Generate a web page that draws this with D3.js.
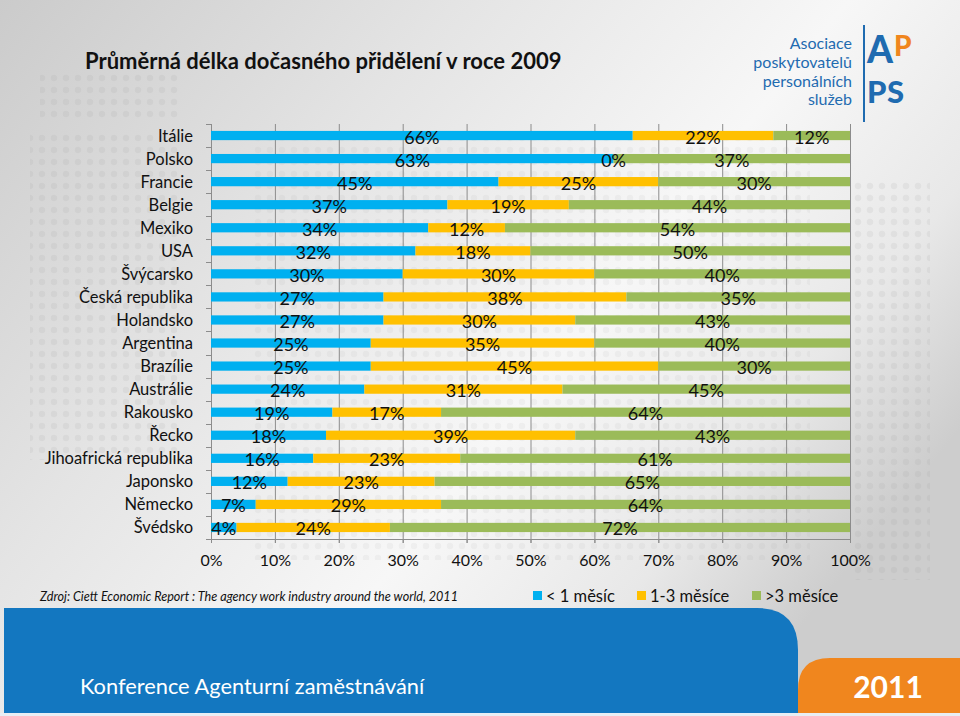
<!DOCTYPE html>
<html><head><meta charset="utf-8">
<script src="https://cdn.jsdelivr.net/npm/d3@7"></script>
<style>html,body{margin:0;padding:0;background:#fff;}svg{display:block;font-family:Lato,"Open Sans",sans-serif;}</style>
</head><body><svg id="c" width="960" height="716"></svg>
<script>
const categories = ["Itálie","Polsko","Francie","Belgie","Mexiko","USA","Švýcarsko","Česká republika","Holandsko","Argentina","Brazílie","Austrálie","Rakousko","Řecko","Jihoafrická republika","Japonsko","Německo","Švédsko"];
const lessThan1 = [66,63,45,37,34,32,30,27,27,25,25,24,19,18,16,12,7,4];
const oneToThree = [22,0,25,19,12,18,30,38,30,35,45,31,17,39,23,23,29,24];
const moreThan3 = [12,37,30,44,54,50,40,35,43,40,30,45,64,43,61,65,64,72];
const seriesNames = ["< 1 měsíc","1-3 měsíce",">3 měsíce"];
const seriesColors = ["#00B0F0","#FFC000","#9BBB59"];
const xTicks = [0,10,20,30,40,50,60,70,80,90,100];
const title = "Průměrná délka dočasného přidělení v roce 2009";
const source = "Zdroj:  Ciett Economic Report : The agency work industry around the world, 2011";

const svg = d3.select("#c");
const defs = svg.append("defs");
const bg = defs.append("linearGradient").attr("id","bg").attr("x1","0").attr("y1","0").attr("x2","1").attr("y2","0.6");
[["0","#cbcbcb"],["0.35","#e4e4e4"],["0.65","#f7f7f7"],["0.85","#e8e8e8"],["1","#cdcdcd"]].forEach(s=>bg.append("stop").attr("offset",s[0]).attr("stop-color",s[1]));
const pat = defs.append("pattern").attr("id","dots").attr("width",12).attr("height",12).attr("patternUnits","userSpaceOnUse");
pat.append("circle").attr("cx",6).attr("cy",6).attr("r",3.2).attr("fill","#9a9a9a").attr("opacity",0.13);

svg.append("rect").attr("width",960).attr("height",716).attr("fill","url(#bg)");
svg.append("rect").attr("x",30).attr("y",130).attr("width",150).attr("height",330).attr("fill","url(#dots)");
svg.append("rect").attr("x",40).attr("y",70).attr("width",140).attr("height",50).attr("fill","url(#dots)");
svg.append("rect").attr("x",250).attr("y",140).attr("width",560).attr("height",420).attr("fill","url(#dots)").attr("opacity",0.7);
svg.append("rect").attr("x",850).attr("y",180).attr("width",80).attr("height",400).attr("fill","url(#dots)");

// title
svg.append("text").attr("x",85).attr("y",69).attr("font-size",22).attr("font-weight","bold").attr("fill","#111").text(title);

// logo
const logoBlue = "#1F6BB0", orange = "#F0861E";
["Asociace","poskytovatelů","personálních","služeb"].forEach((t,i)=>{
  svg.append("text").attr("x",852).attr("y",[49,68,87,105][i]).attr("text-anchor","end").attr("font-size",16).attr("fill",logoBlue).text(t);
});
svg.append("line").attr("x1",864).attr("x2",864).attr("y1",25).attr("y2",122).attr("stroke",logoBlue).attr("stroke-width",2);
const logo = svg.append("text").attr("font-weight",900);
logo.append("tspan").attr("x",867).attr("y",63).attr("font-size",37).attr("fill",logoBlue).text("A");
logo.append("tspan").attr("x",894).attr("y",56).attr("font-size",28).attr("fill",orange).text("P");
logo.append("tspan").attr("x",867).attr("y",103).attr("font-size",31).attr("fill",logoBlue).text("P");
logo.append("tspan").attr("x",887).attr("y",103).attr("font-size",31).attr("fill",logoBlue).text("S");

// scales
const x = d3.scaleLinear().domain([0,100]).range([211,850]);
const y = d3.scaleBand().domain(categories).range([124,539]).paddingInner(0.6).paddingOuter(0.3);
const step = y.step();

// gridlines
svg.append("g").selectAll("line").data(xTicks.slice(1)).join("line")
  .attr("x1",d=>x(d)+0.5).attr("x2",d=>x(d)+0.5).attr("y1",124).attr("y2",543)
  .attr("stroke","#8c8c8c").attr("stroke-width",1);

// x axis
const xAxis = svg.append("g").attr("transform","translate(0,539)")
  .call(d3.axisBottom(x).tickValues(xTicks).tickFormat(d=>d+"%").tickSize(4).tickPadding(12));
xAxis.select(".domain").attr("stroke","#8c8c8c");
xAxis.selectAll(".tick line").attr("stroke","#8c8c8c");
xAxis.selectAll("text").attr("font-size",16).attr("fill","#111").attr("font-family","Lato");

// left axis line + boundary ticks
svg.append("line").attr("x1",211.5).attr("x2",211.5).attr("y1",124).attr("y2",539).attr("stroke","#8c8c8c");
const bounds = categories.map(c=>y(c)-step*0.3).concat([y(categories[categories.length-1])+y.bandwidth()+step*0.3]);
svg.append("g").selectAll("line").data(bounds).join("line")
  .attr("x1",206).attr("x2",211).attr("y1",d=>Math.round(d)+0.5).attr("y2",d=>Math.round(d)+0.5).attr("stroke","#8c8c8c");

// category labels
svg.append("g").selectAll("text").data(categories).join("text")
  .attr("x",193).attr("y",d=>y(d)+y.bandwidth()/2+6).attr("text-anchor","end").attr("font-size",16.5).attr("fill","#111").text(d=>d);

// stacked bars
const rows = categories.map((c,i)=>({cat:c, s0:lessThan1[i], s1:oneToThree[i], s2:moreThan3[i]}));
const stack = d3.stack().keys(["s0","s1","s2"])(rows);
const layers = svg.append("g").selectAll("g").data(stack).join("g").attr("fill",(d,i)=>seriesColors[i]);
layers.selectAll("rect").data(d=>d).join("rect")
  .attr("x",d=>x(d[0])).attr("width",d=>x(d[1])-x(d[0]))
  .attr("y",d=>y(d.data.cat)).attr("height",y.bandwidth());

// data labels
const lab = svg.append("g");
stack.forEach(layer=>{
  lab.selectAll(null).data(layer).join("text")
    .attr("x",d=>x((d[0]+d[1])/2)).attr("y",d=>y(d.data.cat)+y.bandwidth()/2+8)
    .attr("text-anchor","middle").attr("font-size",18).attr("fill","#111")
    .text(d=>(d[1]-d[0])+"%");
});

// source
svg.append("text").attr("x",40).attr("y",601).attr("font-size",12.6).attr("font-style","italic").attr("fill","#111").text(source);

// legend
const legX = [533,637,752];
const leg = svg.append("g").selectAll("g").data(seriesNames).join("g").attr("transform",(d,i)=>`translate(${legX[i]},0)`);
leg.append("rect").attr("x",0).attr("y",591).attr("width",9).attr("height",9).attr("fill",(d,i)=>seriesColors[i]);
leg.append("text").attr("x",13).attr("y",602).attr("font-size",16.5).attr("fill","#111").text(d=>d);

// footer
const footBlue = "#1377C0";
svg.append("path").attr("d","M4,608 H757 Q798,608 798,650 V713 H4 Z").attr("fill",footBlue);
svg.append("path").attr("d","M798,713 V690 Q798,658 830,658 H960 V713 Z").attr("fill",orange);
svg.append("rect").attr("x",0).attr("y",713).attr("width",960).attr("height",3).attr("fill","#e8eef4");
svg.append("text").attr("x",80).attr("y",694).attr("font-size",21.8).attr("fill","#fff").text("Konference Agenturní zaměstnávání");
svg.append("text").attr("x",888).attr("y",698).attr("text-anchor","middle").attr("font-size",30).attr("font-weight","bold").attr("fill","#fff").text("2011");
</script></body></html>
